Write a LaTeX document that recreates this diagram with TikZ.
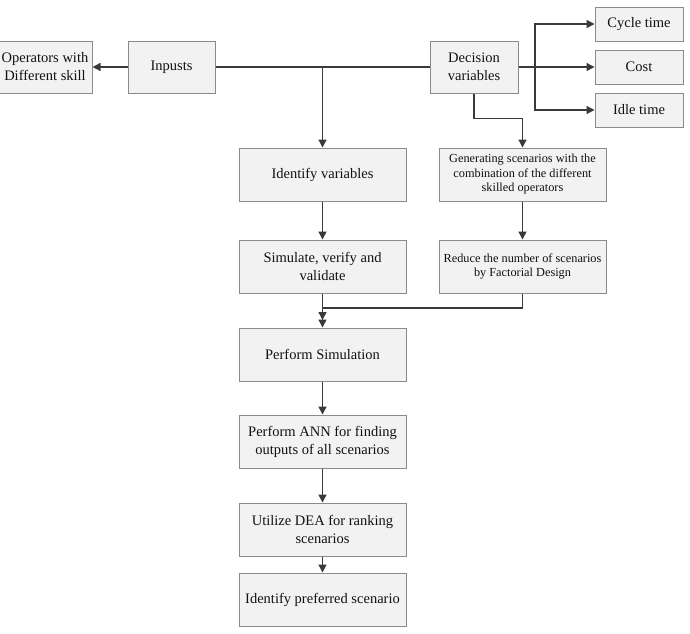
\documentclass[tikz,border=0pt]{standalone}
\usepackage{fontspec}
\setmainfont{Liberation Serif}
\usetikzlibrary{arrows.meta,shadows}
\definecolor{boxfill}{HTML}{F2F2F2}
\definecolor{boxline}{HTML}{8A8A8A}
\definecolor{wire}{HTML}{3A3A3A}
\definecolor{txt}{HTML}{111111}
\tikzset{
  box/.style={draw=boxline, fill=boxfill, line width=1pt, align=center, text=txt,
    font=\fontsize{14.5}{18}\selectfont, inner sep=0pt,
    minimum width=167pt, minimum height=53pt,
    drop shadow={shadow xshift=1.2pt, shadow yshift=-1.2pt, fill=black!35, opacity=0.5}},
  smallbox/.style={box, minimum width=88pt, minimum height=52pt},
  outbox/.style={box, minimum width=88pt, minimum height=34pt},
  genbox/.style={box, font=\fontsize{12.3}{14.5}\selectfont},
  arr/.style={draw=wire, line width=1.4pt, -{Triangle[length=8pt,width=8pt]}},
  wireline/.style={draw=wire, line width=1.4pt}
}
\begin{document}
\begin{tikzpicture}[x=1pt,y=-1pt]
\useasboundingbox (0,0) rectangle (690,633);
% top row
\node[smallbox, minimum width=94pt] (ops) at (45,67) {Operators with\\Different skill};
\node[smallbox, minimum width=87pt] (inp) at (171.5,67) {Inpusts};
\node[smallbox] (dec) at (474,67) {Decision\\variables};
\node[outbox] (cyc) at (639,24) {Cycle time};
\node[outbox] (cost) at (639,67) {Cost};
\node[outbox] (idle) at (639,110) {Idle time};
% middle
\node[box] (idv) at (322.5,174.5) {Identify variables};
\node[genbox] (gen) at (522.5,174.5) {Generating scenarios with the\\combination of the different\\skilled operators};
\node[box] (sim) at (322.5,266.5) {Simulate, verify and\\validate};
\node[genbox] (red) at (522.5,266.5) {Reduce the number of scenarios\\by Factorial Design};
\node[box] (psim) at (322.5,354.5) {Perform Simulation};
\node[box] (ann) at (322.5,441.5) {Perform ANN for finding\\outputs of all scenarios};
\node[box] (dea) at (322.5,529.5) {Utilize DEA for ranking\\scenarios};
\node[box] (pref) at (322.5,599.5) {Identify preferred scenario};
% junction coordinates
\coordinate (j1) at (322.5,67);
\coordinate (b) at (535,67);
\coordinate (m) at (322.5,308);
\coordinate (mend) at (322.5,320);
% connectors
\draw[arr] (inp.west) -- (ops.east);
\draw[wireline] (inp.east) -- (dec.west);
\draw[arr] (j1) -- (idv.north);
\draw[arr] (dec.east) -- (cost.west);
\draw[arr] (b) |- (cyc.west);
\draw[arr] (b) |- (idle.west);
\draw[arr] (dec.south) -- ++(0,25) -| (gen.north);
\draw[arr] (idv.south) -- (sim.north);
\draw[arr] (gen.south) -- (red.north);
\draw[arr] (sim.south) -- (psim.north);
\draw[arr] (red.south) |- (m) -- (mend);
\draw[arr] (psim.south) -- (ann.north);
\draw[arr] (ann.south) -- (dea.north);
\draw[arr] (dea.south) -- (pref.north);
\end{tikzpicture}
\end{document}
